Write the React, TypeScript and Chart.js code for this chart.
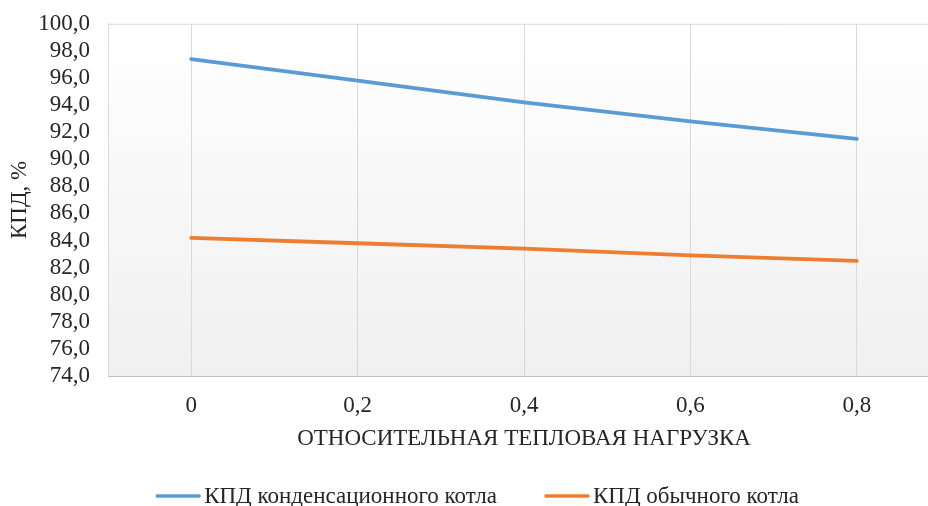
import React, { useEffect, useRef } from "react";
import { Chart, registerables } from "chart.js";

Chart.register(...registerables);

// Relative heat load (x categories)
const loadLabels = ["0", "0,2", "0,4", "0,6", "0,8"];
// Efficiency, %
const condensingEfficiency = [97.4, 95.8, 94.2, 92.8, 91.5];
const conventionalEfficiency = [84.2, 83.8, 83.4, 82.9, 82.5];

const seriesNames = ["КПД конденсационного котла", "КПД обычного котла"];
const seriesColors = ["#5b9bd5", "#ed7d31"];
const yTitle = "КПД, %";
const xTitle = "ОТНОСИТЕЛЬНАЯ ТЕПЛОВАЯ НАГРУЗКА";

const FONT_FAMILY = "'Liberation Serif', 'Times New Roman', serif";
const FONT_SIZE = 23;
const TEXT = "#262626";

// The canvas is a little larger than the visible frame and shifted up,
// so the plot can run past the right edge and sit close to the top.
const CANVAS_W = 944;
const CANVAS_H = 514;
const SHIFT_Y = 8;

// Soft vertical gradient behind the plot plus the thin top frame line
const plotBackground = {
  id: "plotBackground",
  beforeDraw(chart: any) {
    const { ctx, chartArea } = chart;
    if (!chartArea) return;
    const { left, top, right, bottom } = chartArea;
    const g = ctx.createLinearGradient(0, top, 0, bottom);
    g.addColorStop(0, "#ffffff");
    g.addColorStop(1, "#f0f0f0");
    ctx.save();
    ctx.fillStyle = g;
    ctx.fillRect(left, top, right - left, bottom - top);
    ctx.strokeStyle = "#d9d9d9";
    ctx.lineWidth = 1;
    ctx.beginPath();
    ctx.moveTo(left, top + 0.5);
    ctx.lineTo(right, top + 0.5);
    ctx.stroke();
    ctx.restore();
  },
};

// Bottom legend: short line sample right next to each series name
const lineLegend = {
  id: "lineLegend",
  afterDraw(chart: any) {
    const { ctx } = chart;
    const sample = 46;
    const gapText = 3;
    const gapItems = 47;
    const centerX = 477;
    const centerY = 496 + SHIFT_Y;
    ctx.save();
    ctx.font = `${FONT_SIZE}px ${FONT_FAMILY}`;
    ctx.textBaseline = "middle";
    ctx.textAlign = "left";
    const items = chart.data.datasets.map((ds: any) => ({
      text: ds.label as string,
      color: ds.borderColor as string,
      w: ctx.measureText(ds.label).width,
    }));
    const total =
      items.reduce((s: number, it: any) => s + sample + gapText + it.w, 0) +
      gapItems * (items.length - 1);
    let x = centerX - total / 2;
    for (const it of items) {
      ctx.strokeStyle = it.color;
      ctx.lineWidth = 3.5;
      ctx.lineCap = "round";
      ctx.beginPath();
      ctx.moveTo(x + 2, centerY);
      ctx.lineTo(x + sample - 2, centerY);
      ctx.stroke();
      x += sample + gapText;
      ctx.fillStyle = TEXT;
      ctx.fillText(it.text, x, centerY + 1);
      x += it.w + gapItems;
    }
    ctx.restore();
  },
};

export default function App() {
  const canvasRef = useRef<HTMLCanvasElement | null>(null);

  useEffect(() => {
    const canvas = canvasRef.current;
    if (!canvas) return;
    const font = { family: FONT_FAMILY, size: FONT_SIZE };
    const chart = new Chart(canvas, {
      type: "line",
      data: {
        labels: loadLabels,
        datasets: [
          {
            label: seriesNames[0],
            data: condensingEfficiency,
            borderColor: seriesColors[0],
            backgroundColor: seriesColors[0],
            borderWidth: 3.8,
            pointRadius: 0,
            tension: 0,
            borderCapStyle: "round",
          },
          {
            label: seriesNames[1],
            data: conventionalEfficiency,
            borderColor: seriesColors[1],
            backgroundColor: seriesColors[1],
            borderWidth: 3.8,
            pointRadius: 0,
            tension: 0,
            borderCapStyle: "round",
          },
        ],
      },
      options: {
        responsive: false,
        animation: false,
        layout: { padding: { top: 15, left: 0, right: 4, bottom: 0 } },
        plugins: {
          tooltip: { enabled: false },
          legend: { display: false },
        },
        scales: {
          x: {
            type: "category",
            offset: true,
            grid: {
              display: true,
              offset: false,
              color: "#d9d9d9",
              lineWidth: 1,
              drawTicks: false,
            },
            border: { display: true, color: "#bfbfbf", width: 1 },
            ticks: { font, color: TEXT, padding: 16, autoSkip: false, maxRotation: 0 },
            title: {
              display: true,
              text: xTitle,
              font,
              color: TEXT,
              padding: { top: 4, bottom: 53 },
            },
            afterFit(scale: any) {
              scale.height = 130;
            },
          },
          y: {
            min: 74,
            max: 100,
            grid: { display: false, drawTicks: false },
            border: { display: true, color: "#d9d9d9", width: 1 },
            ticks: {
              stepSize: 2,
              autoSkip: false,
              font,
              color: TEXT,
              padding: 18,
              callback: (v: any) => Number(v).toFixed(1).replace(".", ","),
            },
            title: {
              display: true,
              text: yTitle,
              font,
              color: TEXT,
              padding: { top: 6, bottom: 6 },
            },
            afterFit(scale: any) {
              scale.width = 108;
            },
          },
        },
      },
      plugins: [plotBackground, lineLegend],
    });
    return () => chart.destroy();
  }, []);

  return (
    <div
      style={{
        position: "fixed",
        left: 0,
        top: 0,
        width: 928,
        height: 506,
        overflow: "hidden",
        background: "#ffffff",
      }}
    >
      <canvas
        ref={canvasRef}
        width={CANVAS_W}
        height={CANVAS_H}
        style={{ display: "block", marginTop: -SHIFT_Y }}
      />
    </div>
  );
}
